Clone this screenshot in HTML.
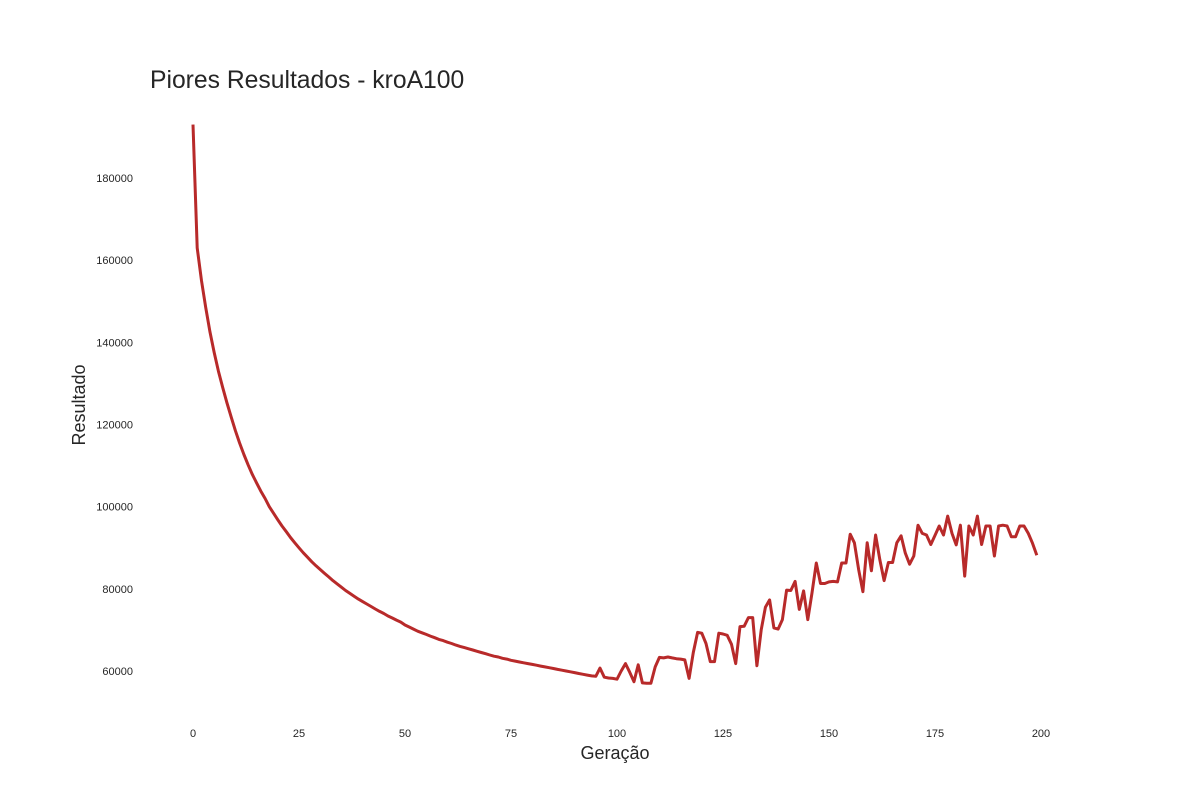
<!DOCTYPE html>
<html><head><meta charset="utf-8"><style>
body{margin:0;background:#fff;font-family:"Liberation Sans",sans-serif}
svg text{font-family:"Liberation Sans",sans-serif;fill:#262626}
</style></head><body>
<svg width="1200" height="800">
<text x="150" y="88" font-size="24.7">Piores Resultados - kroA100</text>
<g id="yt"></g>
<g id="xt"></g>
<text x="85" y="405" font-size="18" text-anchor="middle" transform="rotate(-90 85 405)">Resultado</text>
<text x="615" y="759" font-size="18" text-anchor="middle">Geração</text>
<path id="ln" fill="none" stroke="#b82a2a" stroke-width="3" stroke-linejoin="round"/>
</svg>
<script>
const yTicks=[60000,80000,100000,120000,140000,160000,180000];
const xTicks=[0,25,50,75,100,125,150,175,200];
const values=[193000,163000,155000,148500,142500,137500,133000,129000,125300,121800,
118500,115500,112700,110200,107800,105800,103800,102000,100000,98400,
96800,95300,93900,92500,91200,90000,88800,87700,86600,85600,
84700,83800,82900,82000,81200,80400,79600,78900,78200,77500,
76900,76300,75700,75100,74500,74000,73400,72900,72400,71900,
71200,70700,70200,69700,69300,68900,68500,68100,67700,67400,
67000,66700,66300,66000,65700,65400,65100,64800,64500,64200,
63900,63600,63400,63100,62900,62600,62400,62200,62000,61800,
61600,61400,61200,61000,60800,60600,60400,60200,60000,59800,
59600,59400,59200,59000,58800,58700,60700,58500,58300,58200,
58000,60000,61800,59700,57400,61500,57100,57000,57000,61000,
63300,63200,63400,63200,63000,62900,62700,58200,64500,69400,
69200,66700,62300,62300,69200,69000,68700,66500,61800,70800,
70900,73000,73000,61300,70000,75500,77300,70500,70200,72500,
79700,79600,81800,75000,79500,72500,79000,86300,81300,81300,
81700,81800,81700,86300,86300,93300,91200,84600,79300,91200,
84400,93100,87000,82000,86400,86400,91200,92900,88700,86000,
88000,95500,93500,93100,90800,93000,95300,93100,97700,93500,
90700,95500,83100,95300,93100,97700,90800,95300,95300,88000,
95300,95500,95300,92700,92700,95300,95300,93500,91100,88200];
const X=g=>193+g*4.24, Y=v=>671-(v-60000)*0.004108;
const ns="http://www.w3.org/2000/svg";
const yt=document.getElementById('yt'), xt=document.getElementById('xt');
yTicks.forEach(v=>{const t=document.createElementNS(ns,'text');
t.setAttribute('x',133);t.setAttribute('y',Y(v)+4);t.setAttribute('font-size','11');t.setAttribute('text-anchor','end');


t.textContent=v;yt.appendChild(t);});
xTicks.forEach(v=>{const t=document.createElementNS(ns,'text');
t.setAttribute('x',X(v));t.setAttribute('y',737);t.setAttribute('font-size','11');t.setAttribute('text-anchor','middle');


t.textContent=v;xt.appendChild(t);});
document.getElementById('ln').setAttribute('d',values.map((v,i)=>(i?'L':'M')+X(i).toFixed(1)+','+Y(v).toFixed(1)).join(''));
</script>
</body></html>
